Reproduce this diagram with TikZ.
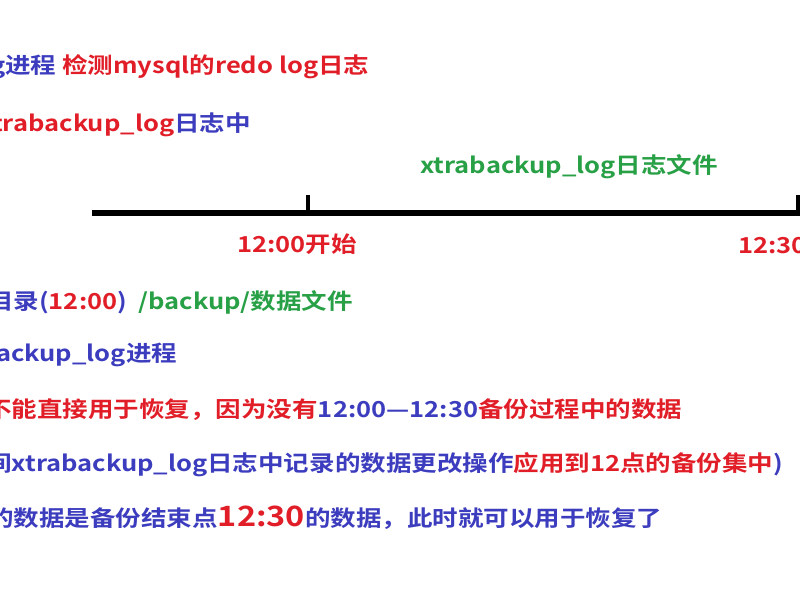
\documentclass[tikz,border=0pt]{standalone}
\usepackage{fontspec}
\setmainfont{Noto Sans CJK SC}[BoldFont={Noto Sans CJK SC Bold}]
\definecolor{cb}{RGB}{60,60,190}
\definecolor{cr}{RGB}{225,30,40}
\definecolor{cg}{RGB}{40,160,70}
\begin{document}
\begin{tikzpicture}[x=1pt,y=-1pt,
  t/.style={anchor=west,inner sep=0pt,xscale=1.16,font=\fontsize{22}{25}\selectfont\bfseries}]
\useasboundingbox (0,0) rectangle (800,600);
\clip (0,0) rectangle (800,600);
\fill[white] (0,0) rectangle (800,600);
\node[t] (l1) at (-10,67) {\color{cb}g进程 \color{cr}检测mysql的redo log日志};
\node[t] (l2) at (-8,125) {\color{cr}trabackup\_log\color{cb}日志中};
\node[t,text=cg] (f) at (420,167) {xtrabackup\_log日志文件};
\coordinate (a) at (92,213);
\coordinate (b) at (805,213);
\draw[line width=6pt] (a) -- (b);
\draw[line width=4pt] (308,195) -- (308,215);
\draw[line width=4pt] (798,195) -- (798,215);
\node[t,text=cr] (s) at (237,244) {12:00开始};
\node[t,text=cr] (e) at (738,246) {12:30};
\node[t] (l3) at (-12,302) {\color{cb}目录(\color{cr}12:00\color{cb})\ \ \color{cg}/backup/数据文件};
\node[t,text=cb] (l4) at (-4,355) {ackup\_log进程};
\node[t] (l5) at (-14,410) {\color{cr}不能直接用于恢复，因为没有\color{cb}12:00—12:30\color{cr}备份过程中的数据};
\node[t] (l6) at (-14,465) {\color{cb}间xtrabackup\_log日志中记录的数据更改操作\color{cr}应用到12点的备份集中\color{cb})};
\node[t] (l7) at (-12,518) {\color{cb}的数据是备份结束点{\color{cr}\fontsize{28}{30}\selectfont 12:30}的数据，此时就可以用于恢复了};
\end{tikzpicture}
\end{document}
